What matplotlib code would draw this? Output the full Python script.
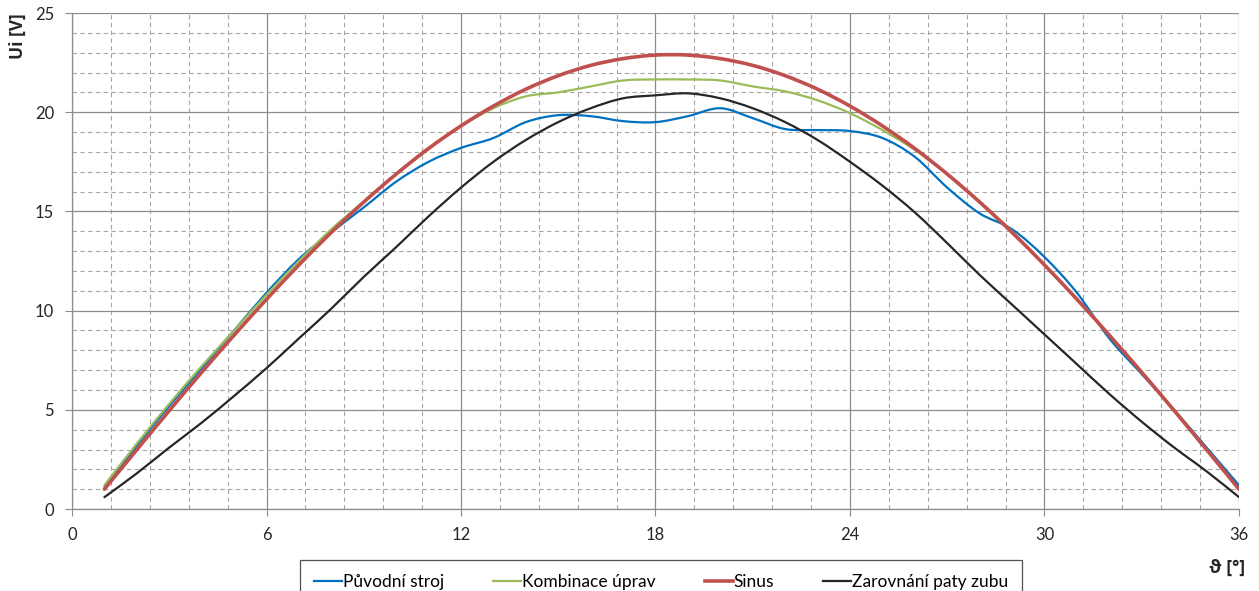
import matplotlib
matplotlib.use("Agg")
import matplotlib.pyplot as plt
from matplotlib.path import Path
from matplotlib.patches import PathPatch
from matplotlib.lines import Line2D
from matplotlib.ticker import MultipleLocator

plt.rcParams['font.family'] = ['Lato', 'DejaVu Sans']

# angle in degrees
theta = list(range(1, 37))

puvodni = [1.1, 3.2, 5.2, 7.1, 9.0, 10.9, 12.6, 13.95, 15.2, 16.5,
           17.5, 18.2, 18.7, 19.5, 19.85, 19.8, 19.55, 19.5, 19.8, 20.2,
           19.7, 19.15, 19.1, 19.05, 18.7, 17.75, 16.2, 14.9, 14.1, 12.7,
           10.9, 8.6, 6.8, 5.0, 3.1, 1.2]

kombinace = [1.2, 3.3, 5.3, 7.2, 9.0, 10.8, 12.5, 14.1, 15.5, 16.9,
             18.2, 19.3, 20.2, 20.8, 21.0, 21.3, 21.6, 21.65, 21.65, 21.6,
             21.3, 21.05, 20.6, 19.95, 19.1, 18.1, 16.9, 15.5, 14.0, 12.3,
             10.6, 8.8, 6.9, 5.0, 3.0, 1.0]

sinus = [1.00, 2.99, 4.96, 6.89, 8.76, 10.57, 12.30, 13.94, 15.47, 16.88,
         18.17, 19.31, 20.31, 21.16, 21.84, 22.36, 22.70, 22.88, 22.88, 22.70,
         22.36, 21.84, 21.16, 20.31, 19.31, 18.17, 16.88, 15.47, 13.94, 12.30,
         10.57, 8.76, 6.89, 4.96, 2.99, 1.00]

zarovnani = [0.6, 1.8, 3.1, 4.35, 5.7, 7.1, 8.6, 10.1, 11.7, 13.2,
             14.75, 16.2, 17.5, 18.6, 19.5, 20.2, 20.7, 20.85, 20.95, 20.7,
             20.2, 19.5, 18.6, 17.5, 16.3, 14.95, 13.4, 11.8, 10.3, 8.8,
             7.3, 5.8, 4.4, 3.1, 1.9, 0.6]

series = [
    ("Původní stroj", puvodni, "#0070C0", 1.6),
    ("Kombinace úprav", kombinace, "#9BBB59", 1.6),
    ("Sinus", sinus, "#C0504D", 2.6),
    ("Zarovnání paty zubu", zarovnani, "#262626", 1.6),
]


def smooth_path(xs, ys):
    # Excel-like smoothed line: cubic Bezier segments through the points
    pts = list(zip(xs, ys))
    n = len(pts)
    verts = [pts[0]]
    codes = [Path.MOVETO]
    for i in range(n - 1):
        p0 = pts[i - 1] if i > 0 else pts[i]
        p1 = pts[i]
        p2 = pts[i + 1]
        p3 = pts[i + 2] if i + 2 < n else pts[i + 1]
        c1 = (p1[0] + (p2[0] - p0[0]) / 6, p1[1] + (p2[1] - p0[1]) / 6)
        c2 = (p2[0] - (p3[0] - p1[0]) / 6, p2[1] - (p3[1] - p1[1]) / 6)
        verts += [c1, c2, p2]
        codes += [Path.CURVE4] * 3
    return Path(verts, codes)


fig = plt.figure(figsize=(12.59, 5.91), dpi=100)
ax = fig.add_axes([0.0572, 0.1387, 0.9269, 0.8393])

handles = []
for name, vals, col, lw in series:
    patch = PathPatch(smooth_path(theta, vals), facecolor='none', edgecolor=col,
                      lw=lw, capstyle='round', joinstyle='round', zorder=3)
    ax.add_patch(patch)
    handles.append(Line2D([], [], color=col, lw=lw))

ax.set_xlim(0, 36)
ax.set_ylim(0, 25)
ax.xaxis.set_major_locator(MultipleLocator(6))
ax.xaxis.set_minor_locator(MultipleLocator(1.2))
ax.yaxis.set_major_locator(MultipleLocator(5))
ax.yaxis.set_minor_locator(MultipleLocator(1))

ax.grid(which='major', color='#8C8C8C', lw=0.9, ls='-')
ax.grid(which='minor', color='#A6A6A6', lw=0.8, ls=(0, (4, 3)))
ax.set_axisbelow(True)

for s in ['top', 'right']:
    ax.spines[s].set_visible(False)
for s in ['left', 'bottom']:
    ax.spines[s].set_color('#8C8C8C')
    ax.spines[s].set_linewidth(0.9)

ax.tick_params(which='major', direction='out', length=5, color='#8C8C8C',
               labelsize=12, labelcolor='#262626', pad=8)
ax.tick_params(which='minor', length=0)

fig.text(0.0143, 0.977, "Ui [V]", rotation=90, ha='center', va='top',
         fontsize=12.5, fontweight='bold', color='#262626',
         family=['Open Sans', 'DejaVu Sans'])
fig.text(0.9746, 0.039, "ϑ [°]", ha='center', va='center',
         fontsize=12.5, fontweight='bold', color='#262626',
         family=['Open Sans', 'DejaVu Sans'])

leg = fig.legend(handles, [s[0] for s in series], loc='upper left',
                 bbox_to_anchor=(0.2383, -0.03, 0.5735, 0.0825), mode='expand',
                 ncol=4, fontsize=12.5, frameon=True, fancybox=False,
                 handlelength=1.6, handletextpad=0.05, borderpad=0.8,
                 borderaxespad=0)
leg.get_frame().set_edgecolor('#262626')
leg.get_frame().set_linewidth(0.9)

fig.savefig("out.png", dpi=100)
